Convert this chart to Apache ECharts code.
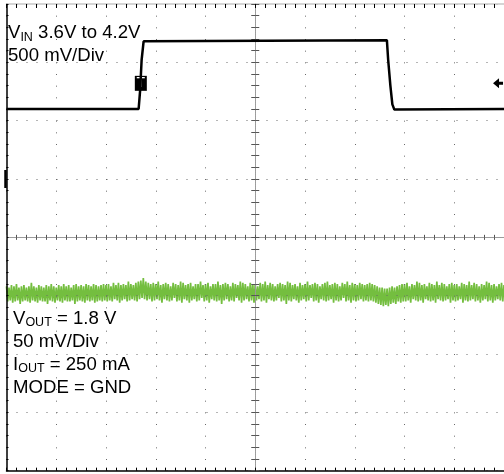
<!DOCTYPE html>
<html>
<head>
<meta charset="utf-8">
<script src="https://cdn.jsdelivr.net/npm/echarts@6/dist/echarts.min.js"></script>
<style>
  html, body { margin: 0; padding: 0; background: #fff; }
  #scope { width: 504px; height: 474px; }
</style>
</head>
<body>
<div id="scope"></div>
<script>
// Screen: 10 time divisions across, 8 amplitude divisions up.
const timeRange = [-5, 5];
const ampRange = [-4, 4];

// CH1: VIN line step, time in divisions, level in volts (500 mV/div)
const vinTime  = [-5, -2.344, -2.314, -2.284, -2.244, -2.214, 2.646, 2.672, 2.716, 2.756, 2.796, 2.826, 5];
const vinVolts = [3.60, 3.60, 3.76, 4.02, 4.18, 4.19, 4.19, 4.02, 3.80, 3.64, 3.595, 3.60, 3.60];
const vinScale = 0.5;   // V per division
const vinOffset = 2.5;  // V at screen centre

// CH2: VOUT ripple (50 mV/div), noise peaks and troughs in mV around the trace,
// one pair every 0.05 division
const voutScale = 50;    // mV per division
const voutOffset = -47;  // trace position, mV below screen centre
const voutStep = 0.05;
const voutHi = [
  5,4,6,5,7,4,5,6,4,5,8,5,4,6,5,4,6,5,7,5,
  4,6,5,7,5,6,4,6,7,5,6,5,7,6,5,7,6,5,6,7,
  6,7,5,8,6,8,6,7,6,9,7,6,8,9,10,12,9,8,7,8,
  7,9,6,7,8,7,5,8,7,6,9,8,6,7,8,5,7,7,9,6,
  7,8,5,7,7,9,6,7,8,7,5,8,7,6,9,8,7,5,8,7,
  7,5,8,7,9,6,8,7,5,7,8,7,6,9,8,6,7,5,8,6,
  7,9,6,7,8,7,5,7,8,9,6,7,8,7,5,8,7,9,6,8,
  7,6,8,7,6,7,8,7,6,5,4,4,3,3,4,5,4,5,6,7,
  7,8,5,7,6,9,8,6,7,5,8,7,6,9,6,8,7,5,7,8,
  6,7,5,8,7,6,9,6,8,7,5,7,6,9,8,6,7,5,7,8,6
];
const voutLo = [
  -8,-7,-9,-8,-7,-10,-8,-7,-8,-9,-7,-8,-9,-7,-8,-8,-10,-7,-8,-9,
  -7,-8,-9,-7,-8,-8,-7,-10,-8,-7,-8,-9,-7,-8,-7,-9,-8,-7,-8,-7,
  -8,-7,-8,-6,-7,-9,-7,-6,-8,-7,-6,-7,-8,-6,-5,-6,-7,-6,-8,-7,
  -6,-7,-9,-6,-7,-8,-7,-5,-8,-7,-9,-6,-7,-9,-7,-6,-8,-7,-5,-8,
  -7,-9,-6,-7,-8,-7,-10,-7,-6,-8,-7,-8,-5,-7,-9,-7,-6,-8,-7,-9,
  -7,-6,-8,-7,-9,-6,-7,-8,-7,-5,-8,-7,-10,-7,-8,-6,-7,-9,-7,-6,
  -8,-7,-5,-8,-7,-9,-6,-7,-8,-7,-6,-9,-7,-8,-7,-5,-8,-7,-9,-7,
  -8,-7,-6,-8,-7,-8,-7,-8,-9,-10,-11,-12,-11,-12,-10,-9,-10,-8,-9,-8,
  -8,-7,-9,-6,-7,-8,-7,-9,-6,-7,-8,-7,-9,-6,-7,-8,-7,-6,-9,-7,
  -8,-7,-6,-9,-7,-8,-7,-6,-8,-7,-9,-7,-6,-8,-7,-9,-7,-6,-7,-8,-7
];

// Trigger point and channel reference marker
const triggerTime = -2.30;     // div
const triggerLevel = 3.82;     // V on CH1
const refMarkerDiv = 1.0;      // div

// On-screen notes
const vinNotes  = ['{m|V}{s|IN}{m| 3.6V to 4.2V}', '{m|500 mV/Div}'];
const voutNotes = ['{m|V}{s|OUT}{m| = 1.8 V}', '{m|50 mV/Div}', '{m|I}{s|OUT}{m| = 250 mA}', '{m|MODE = GND}'];

const fontFam = '"Liberation Sans", Arial, Helvetica, sans-serif';
const traceGreen = '#74be3f';

const vinDiv = v => (v - vinOffset) / vinScale;
const vinData = vinTime.map((t, i) => [t, vinDiv(vinVolts[i])]);

const voutData = [];
voutHi.forEach((hi, i) => {
  const t = timeRange[0] + i * voutStep;
  voutData.push([t, (voutOffset + hi) / voutScale]);
  voutData.push([t + voutStep / 2, (voutOffset + voutLo[i]) / voutScale]);
});

function baseAxis(range) {
  return {
    type: 'value', min: range[0], max: range[1], interval: 1, z: 3,
    axisLabel: { show: false },
    splitLine: { show: false },
    axisTick: { show: false },
    minorTick: { show: false },
    axisLine: { show: false }
  };
}
function borderAxis(range, position, tickLen, lineColor, splitDash) {
  const a = baseAxis(range);
  a.position = position;
  a.axisLine = { show: true, onZero: false, lineStyle: { color: lineColor, width: 1.5 } };
  a.axisTick = { show: true, inside: true, length: tickLen, lineStyle: { color: '#000', width: 1 } };
  a.minorTick = { show: true, splitNumber: 5, length: tickLen, lineStyle: { color: '#000', width: 1 } };
  if (splitDash) {
    a.splitLine = { show: true, lineStyle: { color: '#6a6a6a', width: 1, type: splitDash } };
  }
  return a;
}
function centreAxis(range, position, inside, tickLen) {
  const a = baseAxis(range);
  a.position = position;
  a.axisLine = { show: true, onZero: true, onZeroAxisIndex: 0, lineStyle: { color: '#9a9a9a', width: 1, type: [1, 1] } };
  a.axisTick = { show: true, inside: inside, length: tickLen, lineStyle: { color: '#555', width: 1 } };
  a.minorTick = { show: true, splitNumber: 5, length: tickLen, lineStyle: { color: '#555', width: 1 } };
  return a;
}

const rich = {
  m: { fontSize: 18.6, fontFamily: fontFam, lineHeight: 22, fill: '#000' },
  s: { fontSize: 12.5, fontFamily: fontFam, lineHeight: 14, verticalAlign: 'bottom', fill: '#000' }
};
function note(x, y, text) {
  return {
    type: 'text', x: x, y: y, z: 10, silent: true,
    style: { text: text, rich: rich, align: 'left', verticalAlign: 'middle', fill: '#000', font: '18.6px ' + fontFam }
  };
}

const chart = echarts.init(document.getElementById('scope'), null, { renderer: 'canvas' });
chart.setOption({
  animation: false,
  backgroundColor: '#fff',
  grid: { left: 6.5, top: 4, width: 500, height: 466.67, containLabel: false },
  xAxis: [
    borderAxis(timeRange, 'bottom', 3, '#000', [1, 10.667]),
    borderAxis(timeRange, 'top', 4, '#c8c8c8', null),
    centreAxis(timeRange, 'bottom', true, 2.5),
    centreAxis(timeRange, 'bottom', false, 2.5)
  ],
  yAxis: [
    borderAxis(ampRange, 'left', 2, '#000', [1, 9]),
    centreAxis(ampRange, 'left', true, 4),
    centreAxis(ampRange, 'left', false, 4)
  ],
  series: [
    {
      name: 'VOUT', type: 'line', xAxisIndex: 0, yAxisIndex: 0, z: 2,
      data: voutData, symbol: 'none', silent: true,
      lineStyle: { color: traceGreen, width: 1.7 },
      markPoint: {
        silent: true,
        data: [{
          coord: [timeRange[0], refMarkerDiv], symbol: 'rect', symbolSize: [2.5, 18],
          symbolOffset: [-1, 0], itemStyle: { color: '#000' }, label: { show: false }
        }]
      }
    },
    {
      name: 'VIN', type: 'line', xAxisIndex: 0, yAxisIndex: 0, z: 5,
      data: vinData, symbol: 'none', silent: true,
      lineStyle: { color: '#000', width: 2.5 },
      markPoint: {
        silent: true,
        data: [
          {
            coord: [triggerTime, vinDiv(triggerLevel)], symbol: 'rect', symbolSize: [12, 15],
            itemStyle: { color: '#000' },
            label: { show: true, position: 'inside', formatter: 'T', color: '#fff', fontSize: 14, fontWeight: 'normal', fontFamily: fontFam }
          },
          {
            coord: [4.88, vinDiv(triggerLevel)],
            symbol: 'path://M0,5 L6,0 L6,3.5 L10,3.5 L10,6.5 L6,6.5 L6,10 Z', symbolSize: [10, 10],
            itemStyle: { color: '#000' }, label: { show: false }
          }
        ]
      }
    }
  ],
  graphic: [
    note(8, 33, vinNotes[0]),
    note(8, 56, vinNotes[1]),
    note(13, 318.5, voutNotes[0]),
    note(13, 341.5, voutNotes[1]),
    note(13, 364.5, voutNotes[2]),
    note(13, 387.5, voutNotes[3])
  ]
});
</script>
</body>
</html>
